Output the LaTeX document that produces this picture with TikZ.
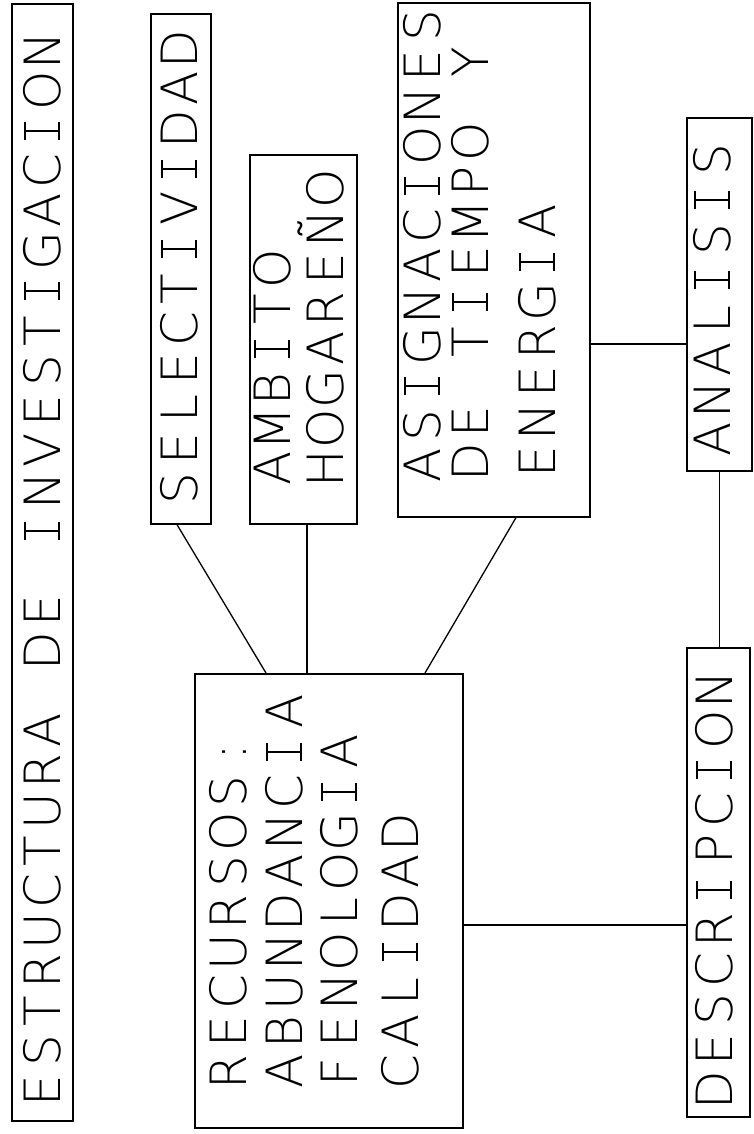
\documentclass[tikz,border=0pt]{standalone}
\usepackage{fontspec}
\newfontfamily\thinfont{DejaVu Sans ExtraLight}
\newcommand{\pf}{\thinfont\fontsize{50pt}{56pt}\selectfont}
% set each character in a fixed-width cell, like a plotter font
\newcommand{\barI}{\makebox[40pt][c]{\rule{18pt}{2.2pt}\kern-10.1pt\rule{2.2pt}{36.4pt}\kern-10.1pt\raisebox{34.2pt}{\rule{18pt}{2.2pt}}}}
\def\mono#1{\monoA#1\relax}
\def\monoA#1{\ifx#1\relax\else\monoB{#1}\expandafter\monoA\fi}
\def\monoB#1{\ifx#1I\barI\else\makebox[40pt][c]{#1}\fi}
\begin{document}
\begin{tikzpicture}[x=1pt,y=-1pt,
  box/.style={draw,line width=1.6pt,inner sep=0pt,anchor=north west},
  txt/.style={rotate=90,anchor=base west,inner sep=0pt,font=\pf},
  conn/.style={line width=1.3pt}]
\useasboundingbox (0,0) rectangle (754,1134);
% boxes
\node[box,minimum width=61pt,minimum height=1117pt] (est) at (11,3) {};
\node[box,minimum width=60pt,minimum height=510pt] (sel) at (150,13) {};
\node[box,minimum width=107pt,minimum height=369pt] (amb) at (249,154) {};
\node[box,minimum width=192pt,minimum height=514pt] (asig) at (397,2) {};
\node[box,minimum width=65pt,minimum height=353pt] (ana) at (686,117) {};
\node[box,minimum width=268pt,minimum height=454pt] (rec) at (194,673) {};
\node[box,minimum width=63pt,minimum height=469pt] (desc) at (686,647) {};
% texts
\node[txt] (t-est) at (60,1111) {\mono{ESTRUCTURA~DE~INVESTIGACION}};
\node[txt] (t-sel) at (197,509) {\mono{SELECTIVIDAD}};
\node[txt] (t-amb1) at (290,489) {\mono{AMBITO}};
\node[txt] (t-amb2) at (343,489) {\mono{HOGAREÑO}};
\node[txt] (t-asig1) at (440,486) {\mono{ASIGNACIONES}};
\node[txt] (t-asig2) at (488,482) {\mono{DE~TIEMPO~Y}};
\node[txt] (t-asig3) at (555,482) {\mono{ENERGIA}};
\node[txt] (t-ana) at (730,460) {\mono{ANALISIS}};
\node[txt] (t-rec1) at (246,1092) {\mono{RECURSOS:}};
\node[txt] (t-rec2) at (302,1092) {\mono{ABUNDANCIA}};
\node[txt] (t-rec3) at (357,1092) {\mono{FENOLOGIA}};
\node[txt] (t-rec4) at (418,1092) {\mono{CALIDAD}};
\node[txt] (t-desc) at (732,1110) {\mono{DESCRIPCION}};
% connectors
\draw[conn] ([xshift=27pt]sel.south west) -- ([xshift=72pt]rec.north west);
\draw[conn] ([xshift=58pt]amb.south west) -- ([xshift=113pt]rec.north west);
\draw[conn] ([xshift=119pt]asig.south west) -- ([xshift=231pt]rec.north west);
\coordinate (ya) at (0,344);
\draw[conn] (asig.east |- ya) -- (ana.west |- ya);
\draw[conn] (ana.south) -- (ana.south |- desc.north);
\coordinate (yr) at (0,925);
\draw[conn] (rec.east |- yr) -- (desc.west |- yr);
\end{tikzpicture}
\end{document}
